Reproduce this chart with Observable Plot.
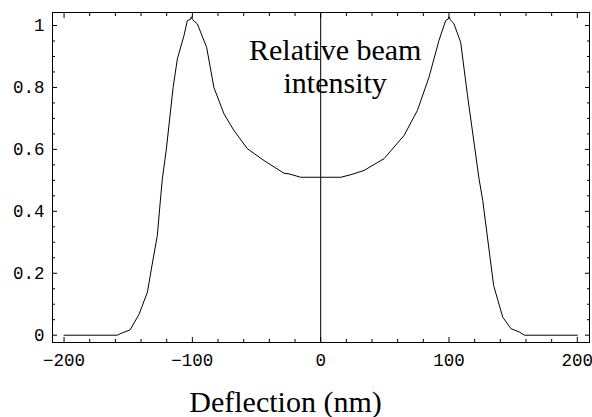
<!DOCTYPE html>
<html>
<head>
<meta charset="utf-8">
<script src="https://cdn.jsdelivr.net/npm/d3@7"></script>
<script src="https://cdn.jsdelivr.net/npm/@observablehq/plot@0.6"></script>
<style>
  html, body { margin: 0; padding: 0; background: #fff; }
</style>
</head>
<body>
<div id="chart"></div>
<script>
// Deflection (nm) and relative beam intensity
const leftDeflection = [-200, -158.5, -155.5, -148.6, -141.6, -135, -131.7, -127.3, -124.7, -123.4, -120.3, -115, -111.7, -106.5, -103.9, -101.5, -100.8, -100, -96.1, -88.9, -83.2, -75.4, -67.6, -57.1, -44.2, -28.6, -24.7, -15.6, 0];
const leftIntensity  = [0, 0, 0.006, 0.017, 0.067, 0.139, 0.22, 0.322, 0.446, 0.505, 0.6, 0.8, 0.892, 0.968, 1.016, 1.02, 1.028, 1.02, 1.005, 0.93, 0.80, 0.715, 0.661, 0.602, 0.564, 0.523, 0.521, 0.51, 0.51];
const rightDeflection = [15.6, 23.4, 33.8, 49.4, 65, 75.4, 84.4, 92.2, 97.4, 99.2, 100, 100.8, 103.9, 109.1, 114.3, 123.4, 126.3, 134.8, 141.9, 148.3, 154.9, 158.8, 200];
const rightIntensity  = [0.51, 0.518, 0.532, 0.57, 0.645, 0.726, 0.833, 0.952, 1.016, 1.02, 1.028, 1.02, 1.005, 0.946, 0.778, 0.505, 0.435, 0.16, 0.058, 0.021, 0.01, 0, 0];

const xMajorTicks = [-200, -100, 0, 100, 200];
const xMinorTicks = [-180, -160, -140, -120, -80, -60, -40, -20, 20, 40, 60, 80, 120, 140, 160, 180];
const yMajorTicks = [0, 0.2, 0.4, 0.6, 0.8, 1];
const yMinorTicks = [0.05, 0.1, 0.15, 0.25, 0.3, 0.35, 0.45, 0.5, 0.55, 0.65, 0.7, 0.75, 0.85, 0.9, 0.95];

const titleText = "Relative beam\nintensity";
const xLabelText = "Deflection (nm)";

const deflection = leftDeflection.concat(rightDeflection);
const intensity = leftIntensity.concat(rightIntensity);
const data = deflection.map((d, i) => ({x: d, y: intensity[i]}));

const mono = "'Liberation Mono', 'DejaVu Sans Mono', monospace";
const serif = "'Liberation Serif', 'DejaVu Serif', serif";
const fmtX = d => d < 0 ? "\u2212" + (-d) : String(d);
const blank = () => "";

const chart = Plot.plot({
  width: 592,
  height: 417,
  marginLeft: 52,
  marginTop: 12,
  marginRight: 3,
  marginBottom: 75,
  style: {background: "#fff", color: "#000", overflow: "visible"},
  x: {domain: [-209, 209.5]},
  y: {domain: [-0.0236, 1.042]},
  marks: [
    Plot.frame({stroke: "#000", strokeWidth: 1}),
    Plot.ruleX([0], {stroke: "#000", strokeWidth: 1}),
    Plot.line(data, {x: "x", y: "y", stroke: "#000", strokeWidth: 1}),
    // inward ticks, all four sides
    Plot.axisX(xMajorTicks, {anchor: "bottom", tickSize: -5, tickFormat: blank, label: null}),
    Plot.axisX(xMinorTicks, {anchor: "bottom", tickSize: -3, tickFormat: blank, label: null}),
    Plot.axisX(xMajorTicks, {anchor: "top", tickSize: -5, tickFormat: blank, label: null}),
    Plot.axisX(xMinorTicks, {anchor: "top", tickSize: -3, tickFormat: blank, label: null}),
    Plot.axisY(yMajorTicks, {anchor: "left", tickSize: -5, tickFormat: blank, label: null}),
    Plot.axisY(yMinorTicks, {anchor: "left", tickSize: -3, tickFormat: blank, label: null}),
    Plot.axisY(yMajorTicks, {anchor: "right", tickSize: -5, tickFormat: blank, label: null}),
    Plot.axisY(yMinorTicks, {anchor: "right", tickSize: -3, tickFormat: blank, label: null}),
    // tick labels
    Plot.axisX(xMajorTicks, {anchor: "bottom", tickSize: 0, tickPadding: 11, tickFormat: fmtX, label: null, fontFamily: mono, fontSize: 17.5}),
    Plot.axisY(yMajorTicks, {anchor: "left", tickSize: 0, tickPadding: 8, tickFormat: d => String(d), label: null, fontFamily: mono, fontSize: 17.5}),
    // annotation and axis title
    Plot.text([titleText], {frameAnchor: "top-left", dx: 282.7, dy: 23.4, textAnchor: "middle", lineAnchor: "top", lineHeight: 1.11, fontFamily: serif, fontSize: 30, fill: "#000"}),
    Plot.text([xLabelText], {frameAnchor: "bottom-left", dx: 233, dy: 59.4, textAnchor: "middle", lineAnchor: "middle", fontFamily: serif, fontSize: 30, fill: "#000"})
  ]
});
document.getElementById("chart").appendChild(chart);
</script>
</body>
</html>
